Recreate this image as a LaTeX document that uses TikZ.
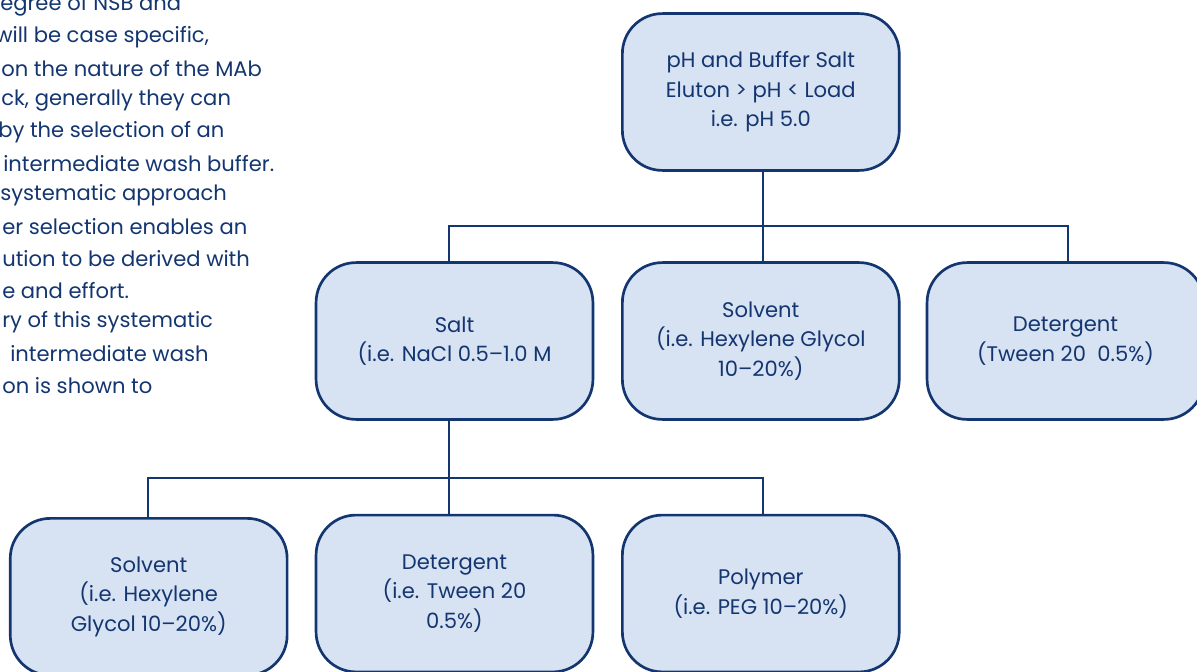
\documentclass[tikz,border=0pt]{standalone}
\usepackage{fontspec}
\setmainfont{Poppins}
\definecolor{navy}{HTML}{143670}
\definecolor{paleblue}{HTML}{D7E2F2}
\tikzset{
    washbox/.style={draw=navy, line width=1.9pt, fill=paleblue, rounded corners=1cm,
        minimum width=6.92cm, minimum height=3.92cm, align=center, text=navy,
        font=\fontsize{15}{21}\selectfont},
    link/.style={draw=navy, line width=1.6pt},
    bodytext/.style={anchor=west, text=navy, inner sep=0pt, font=\fontsize{15}{22}\selectfont}
}
\begin{document}
\begin{tikzpicture}[x=0.025cm, y=-0.025cm]
\useasboundingbox (0,0) rectangle (1197,671);
\clip (0,0) rectangle (1197,671);

% running text, cut off at the left
\foreach \dx/\t [count=\i] in {0/{egree of NSB and}, -5/{will be case specific,}, 1/{on the nature of the MAb},
    1/{ck, generally they can}, -2/{by the selection of an}, 3/{intermediate wash buffer.},
    0/{systematic approach}, 2/{er selection enables an}, 2/{ution to be derived with},
    2/{e and effort.}, 2/{ry of this systematic}, 10/{intermediate wash}, 2/{on is shown to}}
{
    \node[bodytext] (line\i) at (\dx, 5+31.7*\i-31.7) {\t};
}

% tree of wash buffers
\node (ph) at (760.8,92) [washbox] {pH and Buffer Salt\\Eluton > pH < Load\\i.e. pH 5.0};
\node (salt) at (454.5,341) [washbox] {Salt\\(i.e. NaCl 0.5--1.0 M};
\node (solv) at (760.8,341) [washbox] {Solvent\\(i.e. Hexylene Glycol\\10--20\%)};
\node (deter) at (1065.5,341) [washbox] {Detergent\\(Tween 20\ \ 0.5\%)};
\node (lsolv) at (148.7,596.8) [washbox] {Solvent\\(i.e. Hexylene\\Glycol 10--20\%)};
\node (ldet) at (454.5,593.5) [washbox] {Detergent\\(i.e. Tween 20\\0.5\%)};
\node (poly) at (760.8,593.5) [washbox] {Polymer\\(i.e. PEG 10--20\%)};

\coordinate (bus1) at (762.7,226);
\coordinate (bus2) at (449,478.3);

\draw[link] ([xshift=1.35pt]ph.south) -- ([xshift=1.35pt]solv.north);
\draw[link] ([xshift=-3.9pt]salt.north) |- (bus1) -| ([xshift=2pt]deter.north);
\draw[link] ([xshift=-3.9pt]salt.south) -- ([xshift=-3.9pt]ldet.north);
\draw[link] ([xshift=-0.7pt]lsolv.north) |- (bus2) -| ([xshift=1.35pt]poly.north);

\end{tikzpicture}
\end{document}
